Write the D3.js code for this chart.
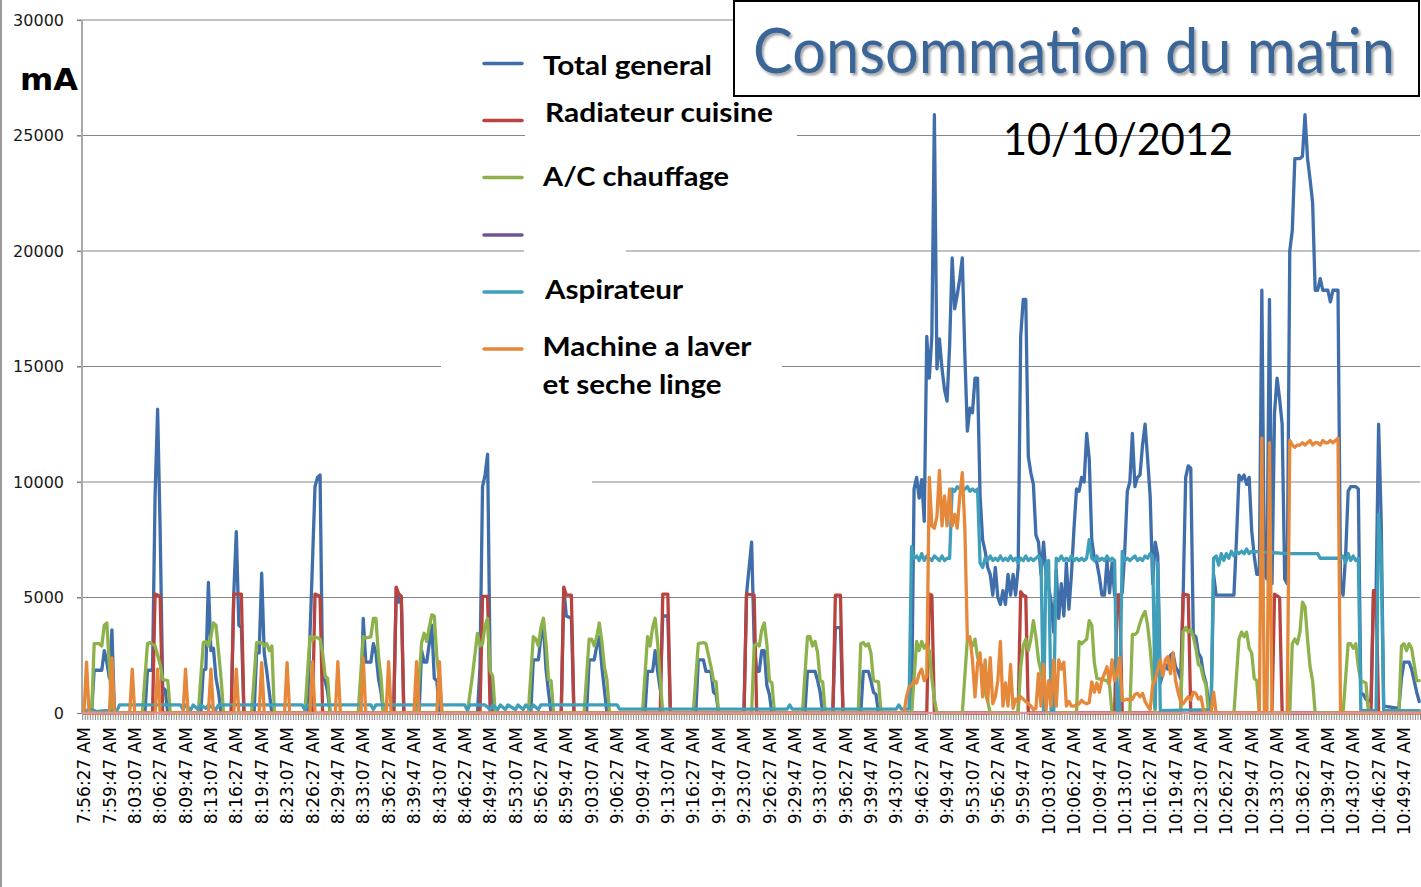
<!DOCTYPE html>
<html>
<head>
<meta charset="utf-8">
<script src="https://cdn.jsdelivr.net/npm/d3@7"></script>
<style>
  body { margin: 0; background: #fff; }
  svg { display: block; }
</style>
</head>
<body>
<svg width="1421" height="887"></svg>
<script>
// Consommation du matin - 10/10/2012
// one sample every 20 s, sample 0 = 7:56:27 AM, a label every 10 samples

var tickLabels = ["7:56:27 AM","7:59:47 AM","8:03:07 AM","8:06:27 AM","8:09:47 AM","8:13:07 AM","8:16:27 AM",
  "8:19:47 AM","8:23:07 AM","8:26:27 AM","8:29:47 AM","8:33:07 AM","8:36:27 AM","8:39:47 AM","8:43:07 AM",
  "8:46:27 AM","8:49:47 AM","8:53:07 AM","8:56:27 AM","8:59:47 AM","9:03:07 AM","9:06:27 AM","9:09:47 AM",
  "9:13:07 AM","9:16:27 AM","9:19:47 AM","9:23:07 AM","9:26:27 AM","9:29:47 AM","9:33:07 AM","9:36:27 AM",
  "9:39:47 AM","9:43:07 AM","9:46:27 AM","9:49:47 AM","9:53:07 AM","9:56:27 AM","9:59:47 AM","10:03:07 AM",
  "10:06:27 AM","10:09:47 AM","10:13:07 AM","10:16:27 AM","10:19:47 AM","10:23:07 AM","10:26:27 AM",
  "10:29:47 AM","10:33:07 AM","10:36:27 AM","10:39:47 AM","10:43:07 AM","10:46:27 AM","10:49:47 AM"];
var nSamples = 527;
var yTicks = [0, 5000, 10000, 15000, 20000, 25000, 30000];

// [sample, mA]
var totalGeneral = [[0,0],[3,0],[4,1850],[7,1850],[8,2700],[9,2200],[10,1500],[11,3600],[12,0],
  [24,0],[25,1850],[27,1850],[28,9400],[29,13150],[30,7900],[31,1100],[32,1000],[33,0],
  [46,0],[47,1850],[48,1900],[49,5650],[50,2700],[51,2800],[52,1500],[53,900],[54,0],
  [58,0],[59,5150],[60,7850],[61,3800],[62,3700],[63,0],
  [67,0],[68,2600],[69,2600],[70,6050],[71,2600],[72,1800],[73,900],[74,0],
  [88,0],[89,3300],[90,6500],[91,9800],[92,10200],[93,10300],[94,1500],[95,1400],[96,900],[97,0],
  [109,0],[110,4100],[111,2200],[113,2200],[114,3000],[115,2600],[116,1500],[117,900],[118,0],
  [122,0],[123,5400],[124,4800],[125,5000],[126,0],
  [132,0],[133,2700],[134,2200],[135,2200],[136,3000],[137,3800],[138,1500],[139,1400],[140,0],
  [155,0],[156,2000],[157,9800],[158,10300],[159,11200],[160,1800],[161,0],
  [176,0],[177,2300],[179,2300],[180,3300],[181,3800],[182,1900],[183,900],[184,0],
  [188,0],[189,5400],[190,4200],[192,4100],[193,0],
  [198,0],[199,2300],[201,2300],[202,2900],[203,3300],[204,2000],[205,1000],[206,0],
  [221,0],[222,1800],[224,1800],[225,2700],[226,1800],[227,1000],[228,4200],[230,4200],[231,0],
  [241,0],[242,2300],[244,2300],[245,1800],[247,1800],[248,900],[249,800],[250,0],
  [260,0],[261,5150],[263,7400],[264,3100],[265,1800],[266,1800],[267,2700],[268,2700],[269,1200],[270,800],[271,0],
  [284,0],[285,1800],[288,1800],[289,1400],[290,900],[291,0],
  [295,0],[296,3700],[298,3700],[299,0],
  [306,0],[307,1800],[309,1800],[310,1400],[311,900],[312,800],[313,0],
  [326,0],[327,9700],[328,10200],[329,9300],[330,10100],[331,8300],[332,16300],[333,14500],[334,16300],
  [335,25900],[336,14900],[337,16200],[338,14900],[339,14000],[340,13500],[341,15900],[342,19700],[343,17500],
  [344,18100],[345,18800],[346,19700],[347,15500],[348,12200],[349,13200],[350,13000],[351,14500],[352,14500],
  [353,9400],[354,7500],[355,7000],[356,6300],[357,6000],[358,5100],[359,6300],[360,5000],[361,4700],[362,5300],
  [363,4700],[364,6000],[365,5100],[366,6000],[367,5100],[368,6300],[369,16300],[370,17900],[371,17900],
  [372,11100],[373,10400],[374,9900],[375,7700],[376,7400],[377,6000],[378,7400],[379,6000],[380,5500],
  [381,4800],[382,3500],[383,6200],[384,4100],[385,5600],[386,4200],[387,6500],[388,4500],[389,6000],
  [390,8000],[391,9700],[392,9600],[393,10200],[394,10000],[395,12100],[396,11000],[397,7500],[398,6700],
  [399,6500],[400,5900],[401,5100],[402,5100],[403,6600],[404,5200],[405,6500],[406,5100],[407,5100],
  [408,5100],[409,5200],[410,7000],[411,9600],[412,10000],[413,12100],[414,9800],[415,10200],[416,10300],
  [417,11600],[418,12500],[419,11000],[420,9400],[421,5600],[422,7400],[423,6800],[424,1300],[425,1700],
  [426,2100],[427,1900],[428,2500],[429,2600],[430,2000],[431,1800],[432,1500],[433,5100],[434,10200],
  [435,10700],[436,10600],[437,3400],[438,3300],[439,2600],[440,2400],[441,1700],[442,1300],[443,500],[444,0],
  [445,6000],[446,5100],[453,5100],[454,7500],[455,10300],[456,10100],[457,10300],[458,9900],[459,10200],
  [460,7900],[461,6800],[462,6000],[463,6000],[464,18300],[465,6000],[466,5800],[467,17900],[468,5600],
  [469,13000],[470,14500],[471,13600],[472,12500],[473,5800],[474,5600],[475,20000],[476,20900],[477,24000],
  [479,24000],[480,24100],[481,25900],[482,24000],[483,23100],[484,22100],[485,18300],[486,18300],[487,18800],
  [488,18300],[490,18300],[491,17800],[492,18300],[494,18300],[495,5600],[496,5100],[497,6800],[498,9600],
  [499,9800],[501,9800],[502,9700],[503,860],[504,800],[505,600],[507,500],[508,5300],[509,5200],[510,12500],
  [511,8400],[512,300],[518,200],[519,1500],[520,2200],[522,2200],[523,1900],[524,1400],[525,900],[526,500]];

var radiateurCuisine = [[0,0],[27,0],[28,5150],[30,5050],[31,0],[58,0],[59,5150],[62,5150],[63,0],
  [90,0],[91,5150],[93,5050],[94,0],[122,0],[123,5450],[124,5150],[125,5050],[126,0],
  [156,0],[157,5050],[159,5050],[160,0],[188,0],[189,5450],[190,5100],[192,5100],[193,0],
  [227,0],[228,5150],[230,5150],[231,0],[260,0],[261,5150],[264,5100],[265,0],
  [295,0],[296,5100],[298,5100],[299,0],[332,0],[333,5150],[334,5100],[335,0],
  [368,0],[369,5250],[370,5100],[371,5050],[372,0],[406,0],[407,5100],[408,5100],[409,0],
  [432,0],[433,5150],[435,5100],[436,0],[468,0],[469,5150],[471,5000],[472,0],
  [507,0],[508,5300],[509,5250],[510,0],[526,0]];

var acChauffage = [[0,0],
  [3,0],[4,3000],[6,3000],[7,2900],[8,3800],[9,3900],[10,2000],[11,0],
  [23,0],[25,3000],[26,3050],[28,2900],[30,2100],[31,1450],[33,1400],[34,0],
  [45,0],[47,3050],[48,3100],[49,2900],[50,3300],[51,3900],[52,3800],[54,1500],[55,0],
  [66,0],[68,3050],[70,3050],[71,2900],[72,3000],[73,2700],[74,2900],[75,0],
  [87,0],[89,3300],[90,3150],[91,3300],[93,3200],[94,2600],[95,1600],[96,1500],[97,0],
  [108,0],[110,3300],[111,3250],[113,3300],[114,4100],[115,4100],[116,2500],[117,1550],[118,0],
  [131,0],[133,3050],[134,3450],[135,3100],[136,3700],[137,4250],[138,4200],[139,2400],[140,1450],[141,0],
  [151,0],[153,1600],[155,3450],[156,2900],[157,3000],[158,3800],[159,4100],[160,1800],[161,1600],[162,0],
  [175,0],[177,3300],[178,3200],[179,2900],[180,3700],[181,4100],[182,3000],[183,1450],[184,1400],[185,0],
  [197,0],[199,3200],[200,3200],[201,2900],[202,3300],[203,3900],[204,3100],[205,2000],[206,1450],[207,0],
  [220,0],[222,3300],[223,2900],[224,3700],[225,4100],[226,3000],[227,1450],[228,0],
  [240,0],[242,3000],[244,3050],[245,3000],[246,2500],[247,2000],[248,1400],[249,1350],[250,0],
  [263,0],[264,2900],[265,3000],[266,2900],[267,3600],[268,3900],[269,3000],[270,1400],[271,1300],[272,0],
  [283,0],[285,3300],[286,3300],[287,2900],[288,3100],[289,2600],[290,1400],[291,1350],[292,0],
  [305,0],[306,3000],[307,3050],[308,2900],[309,3000],[310,2600],[311,1400],[313,1350],[314,0],
  [326,0],[327,1500],[328,3100],[329,2700],[330,3100],[331,2800],[332,3000],[333,2700],[334,1500],[335,600],[336,0],
  [346,0],[348,3200],[349,3100],[350,2900],[351,3200],[352,2400],[353,2200],[354,2000],[355,900],[356,500],[357,0],
  [368,0],[369,2000],[370,2900],[371,3200],[372,2700],[373,3200],[374,4000],[375,3300],[376,2300],[377,1800],[378,1000],[379,0],
  [391,0],[392,3100],[393,3000],[394,3100],[395,3200],[396,4000],[397,3800],[398,2200],[399,1500],[403,1400],[404,1200],[405,0],
  [412,0],[413,3400],[414,3400],[415,3500],[416,3900],[417,4200],[418,4400],[419,3800],[420,2800],[421,1500],[422,0],
  [432,0],[433,3500],[434,3700],[435,3500],[436,3600],[437,3300],[438,2800],[439,2100],[440,2000],[441,1500],[442,1200],[443,0],
  [453,0],[455,3200],[456,3500],[457,3300],[458,3500],[459,2800],[460,2600],[461,1500],[462,1400],[463,0],
  [475,0],[476,3000],[477,3200],[478,3000],[479,3500],[480,4800],[481,4600],[482,3200],[483,2000],[484,1400],[485,0],
  [496,0],[497,1500],[498,3000],[499,3000],[500,2800],[501,3000],[502,2000],[503,1400],[505,1300],[506,0],
  [518,0],[519,2900],[520,3000],[521,2700],[522,3000],[523,2800],[524,2100],[525,1400],[526,1400]];

var serie4 = []; // empty entry of the legend (purple)

var aspirateur = [[0,100],[3,150],[5,60],[8,100],[13,100],[14,350],[38,350],[39,150],[40,350],[42,130],[43,350],
  [45,150],[46,350],[48,200],[49,350],[52,150],[53,350],[86,350],[87,130],[88,350],[113,350],[114,150],[115,350],
  [150,350],[151,130],[152,350],[158,350],[160,150],[161,350],[163,150],[164,350],[166,150],[167,350],[170,150],
  [171,350],[173,150],[174,350],[176,150],[177,350],[179,150],[180,350],[210,350],[211,170],[277,170],[278,350],
  [279,170],[320,170],[321,350],[322,170],[325,170],[326,7200],[327,6700],[328,6800],[329,6600],[330,6900],
  [331,6600],[332,6800],[333,6700],[334,6600],[335,6800],[336,6700],[337,6600],[338,6800],[339,6600],[340,6700],
  [341,6700],[342,9700],[343,9600],[344,9800],[345,9700],[346,9600],[347,9700],[348,9800],[349,9600],[350,9700],
  [351,9600],[352,9700],[353,6500],[354,6300],[355,6700],[356,6600],[357,6800],[358,6600],[359,6700],[360,6600],
  [361,6800],[362,6600],[363,6700],[364,6600],[365,6800],[366,6600],[367,6700],[368,6500],[369,6700],[370,6600],
  [371,6800],[372,6600],[373,6700],[374,6600],[375,6700],[376,6800],[377,6600],[378,0],[379,6500],[380,6600],
  [381,0],[382,0],[383,6700],[384,6600],[385,6800],[386,6600],[387,6700],[388,6600],[389,6800],[390,6600],
  [391,6700],[392,6600],[393,6700],[394,6600],[395,6700],[396,7500],[397,6700],[398,6600],[399,6800],[400,6600],
  [401,6700],[402,6600],[403,6800],[404,6600],[405,6700],[406,6600],[407,100],[408,100],[409,7000],[410,6600],
  [411,6700],[412,6600],[413,6700],[414,6800],[415,6600],[416,6700],[417,6600],[418,6800],[419,6700],[420,6900],
  [421,6800],[422,200],[423,6500],[424,100],[444,150],[445,6700],[446,6800],[447,6400],[448,6900],[449,6600],
  [450,6900],[451,6700],[452,7000],[453,6800],[454,7000],[455,6900],[456,7000],[457,6900],[458,7100],[459,6900],
  [460,7000],[474,6900],[480,6900],[486,6900],[487,6700],[495,6700],[496,6800],[497,6500],[498,6900],[499,6600],
  [500,6800],[501,6600],[502,6700],[503,100],[509,100],[510,8600],[511,6800],[512,100],[526,100]];

var machineLaver = [[0,0],[1,2200],[2,0],[10,0],[11,2380],[12,0],[18,0],[19,1900],[20,0],[28,0],[29,1900],[30,0],
  [39,0],[40,1900],[41,0],[49,0],[50,1900],[51,0],[59,0],[60,1900],[61,0],[69,0],[70,2180],[71,0],[79,0],[80,2180],
  [81,0],[89,0],[90,2220],[91,0],[99,0],[100,2220],[101,0],[109,0],[110,2380],[111,0],[119,0],[120,2220],[121,0],
  [130,0],[131,2220],[132,0],[139,0],[140,2220],[141,0],[323,0],[324,700],[325,1100],[326,1200],[327,1400],
  [328,1300],[329,1700],[330,1900],[331,1400],[332,1600],[333,10200],[334,8100],[335,8000],[336,8500],[337,10500],
  [338,8100],[339,9400],[340,8100],[341,9700],[342,8100],[343,8600],[344,8000],[345,9400],[346,10400],[347,8000],
  [348,3200],[349,3300],[350,2300],[351,700],[352,2150],[353,2600],[354,700],[355,2300],[356,500],[357,2400],
  [358,400],[359,700],[360,1400],[361,3100],[362,300],[363,1300],[364,300],[365,2100],[366,200],[367,600],
  [368,500],[369,700],[370,600],[371,500],[372,400],[373,300],[374,150],[375,200],[376,1700],[377,300],
  [378,2100],[379,150],[380,1400],[381,300],[382,2300],[383,300],[384,2300],[385,1900],[386,2200],[387,300],
  [388,500],[389,300],[390,300],[391,350],[392,400],[393,550],[394,450],[395,400],[396,450],[397,1350],
  [398,900],[399,1300],[400,900],[401,1430],[402,1700],[403,2000],[404,1300],[405,2300],[406,1400],[407,1700],
  [408,2400],[409,550],[410,560],[411,600],[412,550],[413,600],[414,800],[415,850],[416,700],[417,850],
  [418,500],[419,300],[420,150],[421,1200],[422,1430],[423,1900],[424,2300],[425,1600],[426,2300],[427,2440],
  [428,1700],[429,2600],[430,1400],[431,900],[432,500],[433,400],[434,560],[435,700],[436,560],[437,900],
  [438,850],[439,600],[440,700],[441,150],[442,0],[444,0],[445,900],[446,0],[463,0],[464,11900],[465,0],
  [466,0],[467,11700],[468,0],[474,0],[475,11800],[476,11600],[477,11500],[478,11600],[479,11600],[480,11700],
  [481,11600],[482,11700],[483,11800],[484,11600],[485,11700],[486,11700],[487,11600],[488,11800],[489,11700],
  [490,11700],[491,11800],[492,11700],[493,11800],[494,11900],[495,0],[526,0]];

var seriesNames = ["Total general", "Radiateur cuisine", "A/C chauffage", "", "Aspirateur", "Machine a laver\net seche linge"];
var seriesColors = ["#3f6eab", "#b8433f", "#8db24c", "#6f5596", "#3f9fba", "#e5883a"];
var seriesData = [totalGeneral, radiateurCuisine, acChauffage, serie4, aspirateur, machineLaver];

var svg = d3.select("svg");
var plotLeft = 82, plotRight = 1420;

var x = d3.scaleLinear().domain([0, 520]).range([84, 1404]);
var y = d3.scaleLinear().domain([0, 30000]).range([713, 20]);

// left border of the picture
svg.append("rect").attr("x", 0).attr("y", 0).attr("width", 2).attr("height", 887).attr("fill", "#9a9a9a");

// gridlines
svg.append("g").selectAll("line")
  .data(yTicks.filter(function(d){ return d > 0; }))
  .join("line")
  .attr("x1", 77).attr("x2", plotRight)
  .attr("y1", function(d){ return y(d); }).attr("y2", function(d){ return y(d); })
  .attr("stroke", "#868686").attr("stroke-width", 1.2);

// white boxes of the legend texts hide the gridlines
var hideBoxes = [[525, 128, 272, 16], [524, 243, 102, 16], [441, 359, 341, 16], [490, 475, 102, 16]];
svg.append("g").selectAll("rect").data(hideBoxes).join("rect")
  .attr("x", function(d){ return d[0]; }).attr("y", function(d){ return d[1]; })
  .attr("width", function(d){ return d[2]; }).attr("height", function(d){ return d[3]; })
  .attr("fill", "#fff");

// y axis
var yAxis = d3.axisLeft(y).tickValues(yTicks).tickSize(5).tickPadding(13).tickFormat(d3.format("d"));
var gy = svg.append("g").attr("transform", "translate(" + plotLeft + ",0)").call(yAxis);
gy.select(".domain").remove();
gy.selectAll(".tick line").attr("stroke", "#868686").attr("stroke-width", 1.2);
gy.selectAll(".tick text").attr("font-family", "DejaVu Sans").attr("font-size", 16).attr("fill", "#1a1a1a");
svg.append("line").attr("x1", plotLeft).attr("x2", plotLeft).attr("y1", 20).attr("y2", 714)
  .attr("stroke", "#a8a8a8").attr("stroke-width", 2);

// x category ticks
svg.append("g").selectAll("line")
  .data(d3.range(nSamples + 1))
  .join("line")
  .attr("x1", function(i){ return x(i - 0.5); }).attr("x2", function(i){ return x(i - 0.5); })
  .attr("y1", 714).attr("y2", 720)
  .attr("stroke", "#8a8a8a").attr("stroke-width", 1);

// x labels
svg.append("g").selectAll("text")
  .data(tickLabels)
  .join("text")
  .attr("transform", function(d, k){ return "translate(" + x(k * 10) + ",727) rotate(-90)"; })
  .attr("text-anchor", "end")
  .attr("dy", "0.36em")
  .attr("font-family", "DejaVu Sans").attr("font-size", 17).attr("fill", "#000")
  .text(function(d){ return d; });

// series
var line = d3.line().x(function(d){ return x(d[0]); }).y(function(d){ return y(d[1]); });
svg.append("g").selectAll("path")
  .data(seriesData)
  .join("path")
  .attr("d", function(d){ return d.length ? line(d) : null; })
  .attr("fill", "none")
  .attr("stroke", function(d, k){ return seriesColors[k]; })
  .attr("stroke-width", 3.3)
  .attr("stroke-linejoin", "round")
  .attr("stroke-linecap", "round");

// baseline
svg.append("line").attr("x1", plotLeft).attr("x2", plotRight).attr("y1", 713).attr("y2", 713)
  .attr("stroke", "#d99594").attr("stroke-width", 2.5);

// legend
var legendY = [63.5, 120.5, 177.5, 235, 292, 349];
var legendText = [
  [{t: "Total general", x: 543, y: 74.5, w: 169}],
  [{t: "Radiateur cuisine", x: 545, y: 121.5, w: 228}],
  [{t: "A/C chauffage", x: 543, y: 185.5, w: 186}],
  [],
  [{t: "Aspirateur", x: 545, y: 299, w: 138}],
  [{t: "Machine a laver", x: 542.5, y: 356, w: 209}, {t: "et seche linge", x: 542.5, y: 393.5, w: 179}]
];
var leg = svg.append("g");
leg.selectAll("line").data(seriesColors).join("line")
  .attr("x1", 484).attr("x2", 522)
  .attr("y1", function(d, k){ return legendY[k]; }).attr("y2", function(d, k){ return legendY[k]; })
  .attr("stroke", function(d){ return d; }).attr("stroke-width", 3.5).attr("stroke-linecap", "round");
leg.selectAll("text").data(legendText.flat()).join("text")
  .attr("x", function(d){ return d.x; }).attr("y", function(d){ return d.y; })
  .attr("textLength", function(d){ return d.w; }).attr("lengthAdjust", "spacingAndGlyphs")
  .attr("font-family", "Lato").attr("font-weight", "bold").attr("font-size", 27).attr("fill", "#000")
  .text(function(d){ return d.t; });

// unit
svg.append("text").attr("x", 20).attr("y", 90).attr("textLength", 58).attr("lengthAdjust", "spacingAndGlyphs")
  .attr("font-family", "DejaVu Sans").attr("font-weight", "bold").attr("font-size", 31).attr("fill", "#000")
  .text("mA");

// title box
var defs = svg.append("defs");
defs.append("filter").attr("id", "shadow").attr("x", "-5%").attr("y", "-20%").attr("width", "110%").attr("height", "150%")
  .append("feDropShadow").attr("dx", 2).attr("dy", 2.5).attr("stdDeviation", 1.3)
  .attr("flood-color", "#000").attr("flood-opacity", 0.35);
svg.append("rect").attr("x", 734).attr("y", 1).attr("width", 685).attr("height", 95)
  .attr("fill", "#fff").attr("stroke", "#000").attr("stroke-width", 2);
svg.append("text").attr("x", 753).attr("y", 73).attr("textLength", 642).attr("lengthAdjust", "spacingAndGlyphs")
  .attr("font-family", "Lato").attr("font-size", 62).attr("fill", "#3b6597").attr("filter", "url(#shadow)")
  .text("Consommation du matin");
svg.append("text").attr("x", 1003).attr("y", 155).attr("textLength", 230).attr("lengthAdjust", "spacingAndGlyphs")
  .attr("font-family", "Lato").attr("font-size", 44).attr("fill", "#000")
  .text("10/10/2012");
</script>
</body>
</html>
